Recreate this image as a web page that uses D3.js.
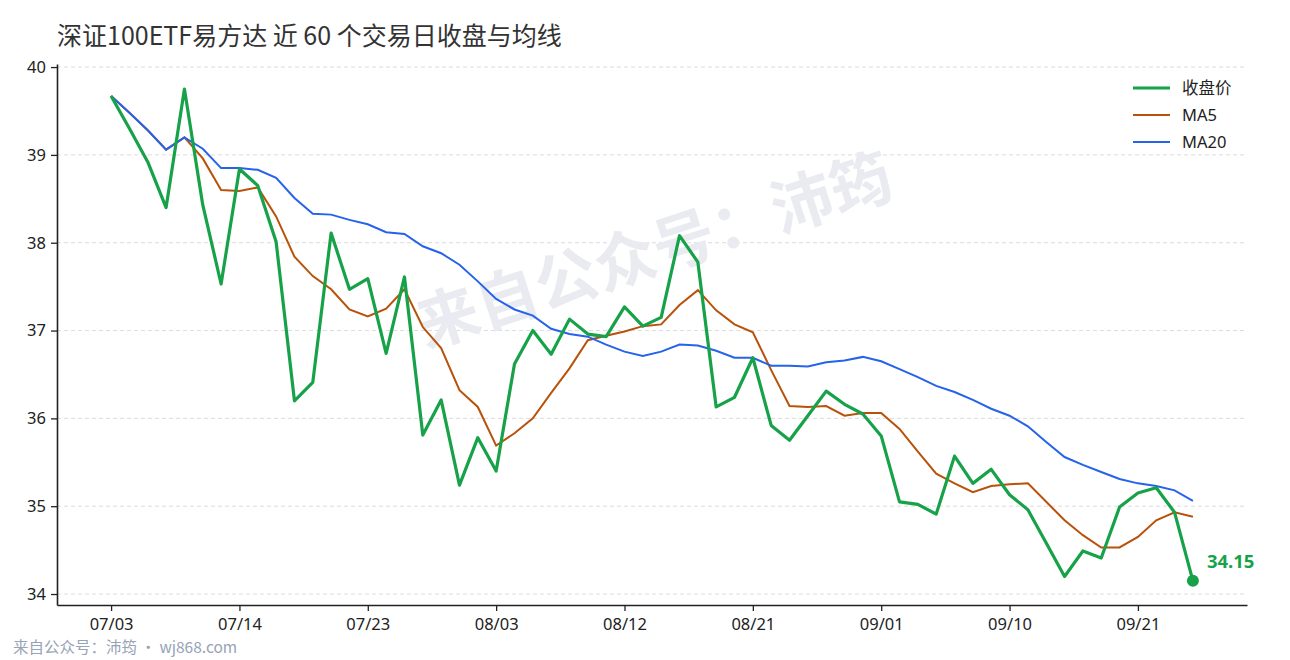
<html>
<head>
<meta charset="utf-8">
<title>深证100ETF易方达</title>
<style>
  body { margin: 0; background: #fff; }
  svg { font-family: "Noto Sans CJK SC", "Noto Sans", sans-serif; }
  .grid line { stroke: #dcdcdc; stroke-dasharray: 4 3; }
  .axis path, .axis line { stroke: #222; }
  .axis path { stroke-width: 1.6; }
  .axis line { stroke-width: 1.3; }
  .axis text { fill: #222; font-size: 16.5px; font-family: "Noto Sans", "Noto Sans CJK SC", sans-serif; }
  .lat { font-family: "Noto Sans", "Noto Sans CJK SC", sans-serif; }
</style>
</head>
<body>
<script src="https://cdn.jsdelivr.net/npm/d3@7"></script>
<script>
// 交易日
var dates = ["07/03","07/06","07/07","07/08","07/09","07/10","07/13","07/14","07/15","07/16",
  "07/17","07/20","07/21","07/22","07/23","07/24","07/27","07/28","07/29","07/30",
  "07/31","08/03","08/04","08/05","08/06","08/07","08/10","08/11","08/12","08/13",
  "08/14","08/17","08/18","08/19","08/20","08/21","08/24","08/25","08/26","08/27",
  "08/28","08/31","09/01","09/02","09/03","09/04","09/07","09/08","09/09","09/10",
  "09/11","09/14","09/15","09/16","09/17","09/18","09/21","09/22","09/23","09/24"];

// 收盘价
var close = [39.67,39.30,38.92,38.40,39.75,38.43,37.53,38.84,38.65,38.01,
  36.20,36.41,38.11,37.47,37.59,36.74,37.61,35.81,36.21,35.24,
  35.78,35.40,36.62,37.00,36.73,37.13,36.96,36.93,37.27,37.05,
  37.15,38.08,37.78,36.13,36.24,36.69,35.92,35.75,36.03,36.31,
  36.16,36.05,35.80,35.05,35.02,34.91,35.57,35.26,35.42,35.13,
  34.96,34.58,34.20,34.49,34.41,34.99,35.15,35.21,34.93,34.15];

var ma5 = [39.67,39.48,39.28,39.06,39.20,38.96,38.60,38.59,38.63,38.30,
  37.84,37.62,37.47,37.24,37.16,37.25,37.47,37.04,36.80,36.32,
  36.13,35.69,35.83,36.00,36.29,36.57,36.89,36.94,36.99,37.05,
  37.07,37.29,37.46,37.23,37.07,36.98,36.55,36.14,36.13,36.14,
  36.03,36.06,36.06,35.88,35.62,35.37,35.26,35.16,35.23,35.25,
  35.26,35.05,34.84,34.67,34.53,34.53,34.65,34.84,34.93,34.88];

var ma20 = [39.67,39.48,39.28,39.06,39.20,39.07,38.85,38.85,38.83,38.74,
  38.51,38.33,38.32,38.26,38.21,38.12,38.10,37.96,37.88,37.75,
  37.56,37.36,37.24,37.17,37.02,36.96,36.93,36.84,36.76,36.71,
  36.76,36.84,36.83,36.77,36.69,36.69,36.60,36.60,36.59,36.64,
  36.66,36.70,36.65,36.56,36.47,36.37,36.30,36.21,36.11,36.03,
  35.91,35.73,35.56,35.47,35.39,35.31,35.26,35.23,35.18,35.06];

var yTicks = [34,35,36,37,38,39,40];
var tickIdx = [0,7,14,21,28,35,42,49,56];

var W = 1290, H = 660;
var plotL = 57, plotR = 1247, plotT = 64, plotB = 605;

var svg = d3.select('body').append('svg')
  .attr('width', W)
  .attr('height', H);

var x = d3.scalePoint().domain(dates).range([plotL, plotR]).padding(2.95);
var y = d3.scaleLinear().domain([33.875, 40.035]).range([plotB, plotT]);

// 网格
svg.append('g')
  .attr('class', 'grid')
  .selectAll('line')
  .data(yTicks)
  .enter()
  .append('line')
  .attr('x1', plotL)
  .attr('x2', plotR)
  .attr('y1', function(d) { return y(d); })
  .attr('y2', function(d) { return y(d); });

// 水印
svg.append('text')
  .attr('transform', 'translate(653,246) rotate(-18)')
  .attr('text-anchor', 'middle')
  .attr('dominant-baseline', 'central')
  .style('font-size', '62px')
  .style('font-weight', 'bold')
  .style('fill', '#e9ebf1')
  .text('来自公众号：沛筠');

// 坐标轴
svg.append('g')
  .attr('class', 'axis')
  .attr('transform', 'translate(' + plotL + ',0)')
  .call(d3.axisLeft(y).tickValues(yTicks).tickSizeInner(6).tickSizeOuter(0).tickPadding(5).tickFormat(d3.format('d')));

svg.append('g')
  .attr('class', 'axis')
  .attr('transform', 'translate(0,' + plotB + ')')
  .call(d3.axisBottom(x).tickValues(tickIdx.map(function(i) { return dates[i]; })).tickSizeInner(6).tickSizeOuter(0).tickPadding(7));

function lineOf(vals) {
  return d3.line()
    .x(function(d, i) { return x(dates[i]); })
    .y(function(d) { return y(d); })(vals);
}

svg.append('path')
  .attr('d', lineOf(ma5))
  .attr('fill', 'none')
  .attr('stroke', '#b8520b')
  .attr('stroke-width', 2);

svg.append('path')
  .attr('d', lineOf(ma20))
  .attr('fill', 'none')
  .attr('stroke', '#2563eb')
  .attr('stroke-width', 2);

svg.append('path')
  .attr('d', lineOf(close))
  .attr('fill', 'none')
  .attr('stroke', '#17a24a')
  .attr('stroke-width', 3.2)
  .attr('stroke-linejoin', 'round');

var last = close.length - 1;
svg.append('circle')
  .attr('cx', x(dates[last]))
  .attr('cy', y(close[last]))
  .attr('r', 6)
  .style('fill', '#17a24a');

svg.append('text')
  .attr('class', 'lat')
  .attr('x', x(dates[last]) + 14)
  .attr('y', y(close[last]) - 13)
  .style('font-size', '18.5px')
  .style('font-weight', 'bold')
  .style('fill', '#17a24a')
  .text(close[last].toFixed(2));

// 图例
var legend = [
  { name: '收盘价', color: '#17a24a', w: 3.2 },
  { name: 'MA5', color: '#b8520b', w: 2 },
  { name: 'MA20', color: '#2563eb', w: 2 }
];
var lg = svg.append('g').selectAll('g').data(legend).enter().append('g')
  .attr('transform', function(d, i) { return 'translate(1133,' + (88 + i * 27) + ')'; });
lg.append('line')
  .attr('x1', 0).attr('x2', 37)
  .attr('stroke', function(d) { return d.color; })
  .attr('stroke-width', function(d) { return d.w; });
lg.append('text')
  .attr('class', 'lat')
  .attr('x', 49)
  .attr('dy', '0.35em')
  .style('font-size', '16.5px')
  .style('fill', '#222')
  .text(function(d) { return d.name; });

// 标题
svg.append('text')
  .attr('x', 57)
  .attr('y', 45)
  .style('font-size', '25px')
  .style('fill', '#333')
  .text('深证100ETF易方达 近 60 个交易日收盘与均线');

// 页脚
svg.append('text')
  .attr('x', 13)
  .attr('y', 653)
  .style('font-size', '15.5px')
  .style('fill', '#97a3b6')
  .text('来自公众号：沛筠 · wj868.com');
</script>
</body>
</html>
